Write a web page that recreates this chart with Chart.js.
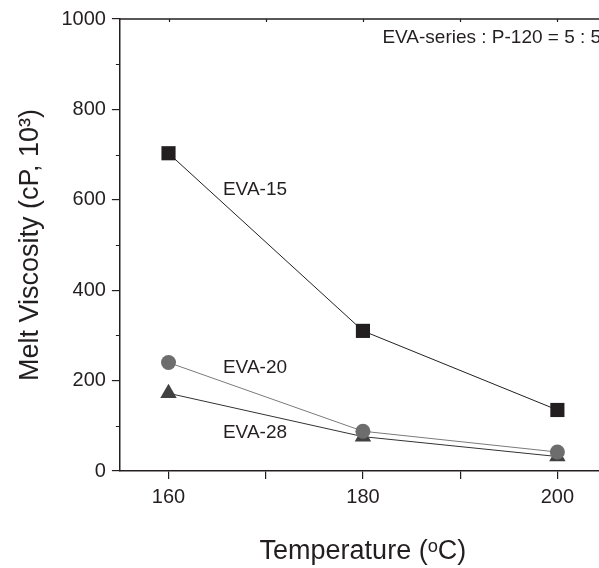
<!DOCTYPE html>
<html><head><meta charset="utf-8">
<script src="https://cdn.jsdelivr.net/npm/chart.js@4"></script>
<style>
html,body{margin:0;padding:0;background:#fff;overflow:hidden;width:599px;height:568px}
#wrap{position:absolute;left:0;top:0;width:620px;height:568px}
</style>
</head><body><div id="wrap"><canvas id="c" width="620" height="568"></canvas></div>
<script>
// ---- data ----
const temperatures = [160, 180, 200];
const eva15 = [703, 310, 135];
const eva20 = [240, 88, 42];
const eva28 = [172, 76, 32];
const seriesNames = ['EVA-15', 'EVA-20', 'EVA-28'];
const xTickValues = [160, 170, 180, 190, 200];
const xTickLabels = ['160', '', '180', '', '200'];
const yMinorTicks = [100, 300, 500, 700, 900];
const noteText = 'EVA-series : P-120 = 5 : 5';
const xTitle = 'Temperature (\u1D52C)';
const yTitle = 'Melt Viscosity (cP, 10\u00B3)';

// annotation placement (data coordinates)
const annotations = [
  {text: seriesNames[0], x: 165.6, y: 622},
  {text: seriesNames[1], x: 165.6, y: 229},
  {text: seriesNames[2], x: 165.6, y: 85},
  {text: noteText, x: 182.0, y: 958}
];

const INK = '#231f20';
const FONT = '"Liberation Sans", Arial, "DejaVu Sans", sans-serif';

function pts(vals){ return temperatures.map((t,i)=>({x:t, y:vals[i]})); }

const extras = {
  id: 'extras',
  afterDraw(chart){
    const {ctx, chartArea:a, scales:{x, y}} = chart;
    ctx.save();
    ctx.strokeStyle = INK;
    ctx.lineWidth = 1.5;
    ctx.beginPath();
    ctx.moveTo(a.left, a.top); ctx.lineTo(a.right + 20, a.top);
    ctx.stroke();
    ctx.lineWidth = 1.2;
    ctx.beginPath();
    xTickValues.forEach(v => {
      const px = Math.round(x.getPixelForValue(v)) + 0.5;
      ctx.moveTo(px, a.top); ctx.lineTo(px, a.top + 3);
    });
    yMinorTicks.forEach(v => {
      const py = Math.round(y.getPixelForValue(v)) + 0.5;
      ctx.moveTo(a.left, py); ctx.lineTo(a.left - 4, py);
    });
    ctx.stroke();
    ctx.fillStyle = INK;
    ctx.font = '19px ' + FONT;
    ctx.textAlign = 'left';
    ctx.textBaseline = 'middle';
    annotations.forEach(an => {
      ctx.fillText(an.text, x.getPixelForValue(an.x), y.getPixelForValue(an.y));
    });
    ctx.restore();
  }
};

new Chart(document.getElementById('c'), {
  type: 'line',
  data: {
    datasets: [
      {label: seriesNames[0], data: pts(eva15), borderColor: INK, borderWidth: 1,
       pointStyle: 'rect', pointRadius: 10, pointBackgroundColor: INK, pointBorderColor: INK, pointBorderWidth: 0},
      {label: seriesNames[1], data: pts(eva20), borderColor: '#7a7a7a', borderWidth: 1,
       pointStyle: 'circle', pointRadius: 7.5, pointBackgroundColor: '#6d6d6d', pointBorderColor: '#6d6d6d', pointBorderWidth: 0},
      {label: seriesNames[2], data: pts(eva28), borderColor: '#333333', borderWidth: 1,
       pointStyle: 'triangle', pointRadius: 9.5, pointBackgroundColor: '#414141', pointBorderColor: '#414141', pointBorderWidth: 0}
    ]
  },
  options: {
    responsive: false,
    animation: false,
    devicePixelRatio: 1,
    layout: {padding: {left: 10, top: 19, right: 14, bottom: 0}},
    plugins: {legend: {display: false}, tooltip: {enabled: false}},
    elements: {line: {tension: 0}},
    scales: {
      x: {
        type: 'linear', min: 155, max: 205,
        afterBuildTicks: s => { s.ticks = xTickValues.map(v => ({value: v})); },
        ticks: {
          autoSkip: false, maxRotation: 0, padding: 6, color: INK,
          font: {family: FONT, size: 20},
          callback: (v, i) => xTickLabels[i]
        },
        grid: {display: true, drawOnChartArea: false, drawTicks: true, tickLength: 8, color: INK, lineWidth: 1.2},
        border: {display: true, color: INK, width: 1.5},
        title: {display: true, text: xTitle, color: INK, font: {family: FONT, size: 27}, padding: {top: 20.6, bottom: 0}}
      },
      y: {
        min: 0, max: 1000,
        ticks: {stepSize: 200, padding: 6, color: INK, font: {family: FONT, size: 20},
                callback: v => String(v)},
        grid: {display: true, drawOnChartArea: false, drawTicks: true, tickLength: 8, color: INK, lineWidth: 1.2},
        border: {display: true, color: INK, width: 1.5},
        title: {display: true, text: yTitle, color: INK, font: {family: FONT, size: 27}, padding: {top: 4, bottom: 9}}
      }
    }
  },
  plugins: [extras]
});
</script>
</body></html>
